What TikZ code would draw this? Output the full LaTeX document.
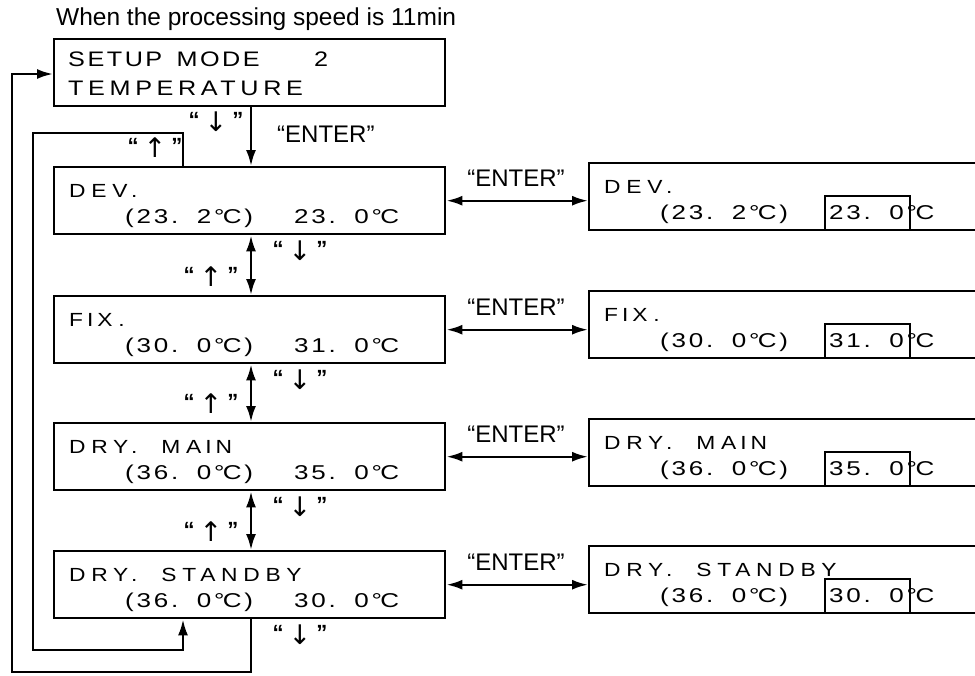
\documentclass[tikz,border=0pt]{standalone}
\usepackage{fontspec}
\setmainfont{Liberation Sans}
\newfontfamily\lcdA[FakeStretch=1.2,LetterSpace=30,WordSpace=2]{Liberation Sans}
\newfontfamily\lcdB[FakeStretch=1.3,LetterSpace=14,WordSpace=1.5]{Liberation Sans}
\newfontfamily\lcdS[FakeStretch=1.2,LetterSpace=22,WordSpace=2]{Liberation Sans}
\newfontfamily\lcdT[FakeStretch=1.2,LetterSpace=12,WordSpace=1.5]{Liberation Sans}
\newfontfamily\arrfont{DejaVu Sans}
\usetikzlibrary{arrows.meta,calc}
\newcommand\qL{{\fontsize{22}{22}\selectfont\bfseries “}}
\newcommand\qR{{\fontsize{22}{22}\selectfont\bfseries ”}}
\newcommand\keydn{\qL\kern5pt\raisebox{-4pt}{\fontsize{27}{27}\arrfont ↓}\kern5pt\qR}
\newcommand\keyup{\qL\kern5pt\raisebox{-4pt}{\fontsize{27}{27}\arrfont ↑}\kern5pt\qR}
\newcommand\dgC{°\kern-1.5pt C}
\begin{document}
\begin{tikzpicture}[x=1pt,y=-1pt,line width=2.4pt,
  box/.style={draw,rectangle,minimum width=391pt,minimum height=67pt,inner sep=0pt,anchor=north west},
  rbox/.style={draw,rectangle,minimum width=400pt,minimum height=67pt,inner sep=0pt,anchor=north west},
  selbox/.style={draw,rectangle,minimum width=85pt,minimum height=34pt,inner sep=0pt,anchor=south west},
  lineA/.style={anchor=base west,inner sep=0pt,font=\fontsize{19}{19}\lcdA},
  lineB/.style={anchor=base west,inner sep=0pt,font=\fontsize{20}{20}\lcdB},
  lineS/.style={anchor=base west,inner sep=0pt,font=\fontsize{21}{21}\lcdS},
  lineT/.style={anchor=base west,inner sep=0pt,font=\fontsize{21}{21}\lcdT},
  enterlbl/.style={anchor=base,inner sep=0pt,font=\fontsize{24}{24}\selectfont},
  keylbl/.style={anchor=center,inner sep=0pt},
  arw/.style={-{Latex[length=16pt,width=10pt]}},
  darw/.style={{Latex[length=16pt,width=10pt]}-{Latex[length=16pt,width=10pt]}}
]
\useasboundingbox (0,0) rectangle (975,675);
\clip (0,0) rectangle (975,675);

\node[anchor=base west,inner sep=0pt,font=\fontsize{24.5}{24.5}\selectfont] (title) at (55,25) {When the processing speed is 11min};

% left boxes
\node[box] (setup) at (53,38) {};
\node[box] (dev) at (53,166) {};
\node[box] (fix) at (53,295) {};
\node[box] (main) at (53,422) {};
\node[box] (stby) at (53,550) {};

% right boxes
\node[rbox] (rdev) at (588,162) {};
\node[rbox] (rfix) at (588,290) {};
\node[rbox] (rmain) at (588,418) {};
\node[rbox] (rstby) at (588,545) {};

% selection boxes
\node[selbox] (sdev) at ($(rdev.south west)+(236,0)$) {};
\node[selbox] (sfix) at ($(rfix.south west)+(236,0)$) {};
\node[selbox] (smain) at ($(rmain.south west)+(236,0)$) {};
\node[selbox] (sstby) at ($(rstby.south west)+(236,0)$) {};

% texts setup
\node[lineT] (setupa) at ($(setup.north west)+(14,28)$) {SETUP MODE\hspace{40pt} 2};
\node[lineS] (setupb) at ($(setup.north west)+(14,57)$) {TEMPERATURE};

% left texts
\node[lineA] (deva) at ($(dev.north west)+(15,31)$) {DEV.};
\node[lineB] (devb) at ($(dev.north west)+(71,57)$) {(23. 2\dgC)};
\node[lineB] (devc) at ($(dev.north west)+(240,57)$) {23. 0\dgC};
\node[lineA] (fixa) at ($(fix.north west)+(15,31)$) {F\kern4pt I\kern4pt X.};
\node[lineB] (fixb) at ($(fix.north west)+(71,57)$) {(30. 0\dgC)};
\node[lineB] (fixc) at ($(fix.north west)+(240,57)$) {31. 0\dgC};
\node[lineA] (maina) at ($(main.north west)+(15,31)$) {DRY. MA\kern4pt I\kern4pt N};
\node[lineB] (mainb) at ($(main.north west)+(71,57)$) {(36. 0\dgC)};
\node[lineB] (mainc) at ($(main.north west)+(240,57)$) {35. 0\dgC};
\node[lineA] (stbya) at ($(stby.north west)+(15,31)$) {DRY. STANDBY};
\node[lineB] (stbyb) at ($(stby.north west)+(71,57)$) {(36. 0\dgC)};
\node[lineB] (stbyc) at ($(stby.north west)+(240,57)$) {30. 0\dgC};

% right texts
\node[lineA] (rdeva) at ($(rdev.north west)+(15,31)$) {DEV.};
\node[lineB] (rdevb) at ($(rdev.north west)+(71,57)$) {(23. 2\dgC)};
\node[lineB] (rdevc) at ($(rdev.north west)+(240,57)$) {23. 0\dgC};
\node[lineA] (rfixa) at ($(rfix.north west)+(15,31)$) {F\kern4pt I\kern4pt X.};
\node[lineB] (rfixb) at ($(rfix.north west)+(71,57)$) {(30. 0\dgC)};
\node[lineB] (rfixc) at ($(rfix.north west)+(240,57)$) {31. 0\dgC};
\node[lineA] (rmaina) at ($(rmain.north west)+(15,31)$) {DRY. MA\kern4pt I\kern4pt N};
\node[lineB] (rmainb) at ($(rmain.north west)+(71,57)$) {(36. 0\dgC)};
\node[lineB] (rmainc) at ($(rmain.north west)+(240,57)$) {35. 0\dgC};
\node[lineA] (rstbya) at ($(rstby.north west)+(15,31)$) {DRY. STANDBY};
\node[lineB] (rstbyb) at ($(rstby.north west)+(71,57)$) {(36. 0\dgC)};
\node[lineB] (rstbyc) at ($(rstby.north west)+(240,57)$) {30. 0\dgC};

% helper coordinates
\coordinate (colx) at (251,0);
\coordinate (ix) at (183,0);
\coordinate (itl) at (33,133);
\coordinate (ibl) at (33,650);
\coordinate (obl) at (12,672);
\coordinate (oy) at (0,74);
\coordinate (mx) at (516,0);

% vertical connectors
\draw[arw] (setup.south -| colx) -- (dev.north -| colx);
\draw[darw] (dev.south -| colx) -- (fix.north -| colx);
\draw[darw] (fix.south -| colx) -- (main.north -| colx);
\draw[darw] (main.south -| colx) -- (stby.north -| colx);

% ENTER connectors
\draw[darw] (dev.east) -- (dev.east -| rdev.west);
\draw[darw] (fix.east) -- (fix.east -| rfix.west);
\draw[darw] (main.east) -- (main.east -| rmain.west);
\draw[darw] (stby.east) -- (stby.east -| rstby.west);

% loops
\draw[arw] (dev.north -| ix) |- (itl) -- (ibl) -| (stby.south -| ix);
\draw[arw] (stby.south -| colx) |- (obl) -- (obl |- oy) -- (setup.west |- oy);

% ENTER labels
\node[anchor=base west,inner sep=0pt,font=\fontsize{24}{24}\selectfont] (e0) at (276,142) {“ENTER”};
\node[enterlbl,yshift=14pt] (e1) at (dev.east -| mx) {“ENTER”};
\node[enterlbl,yshift=14pt] (e2) at (fix.east -| mx) {“ENTER”};
\node[enterlbl,yshift=14pt] (e3) at (main.east -| mx) {“ENTER”};
\node[enterlbl,yshift=14pt] (e4) at (stby.east -| mx) {“ENTER”};

% key labels
\node[keylbl] (k0) at (216,122) {\keydn};
\node[keylbl] (k1) at (155,148) {\keyup};
\node[keylbl] (k2) at (300,251) {\keydn};
\node[keylbl] (k3) at (211,277) {\keyup};
\node[keylbl] (k4) at (300,380) {\keydn};
\node[keylbl] (k5) at (211,404) {\keyup};
\node[keylbl] (k6) at (300,507) {\keydn};
\node[keylbl] (k7) at (211,532) {\keyup};
\node[keylbl] (k8) at (300,635) {\keydn};
\end{tikzpicture}
\end{document}
